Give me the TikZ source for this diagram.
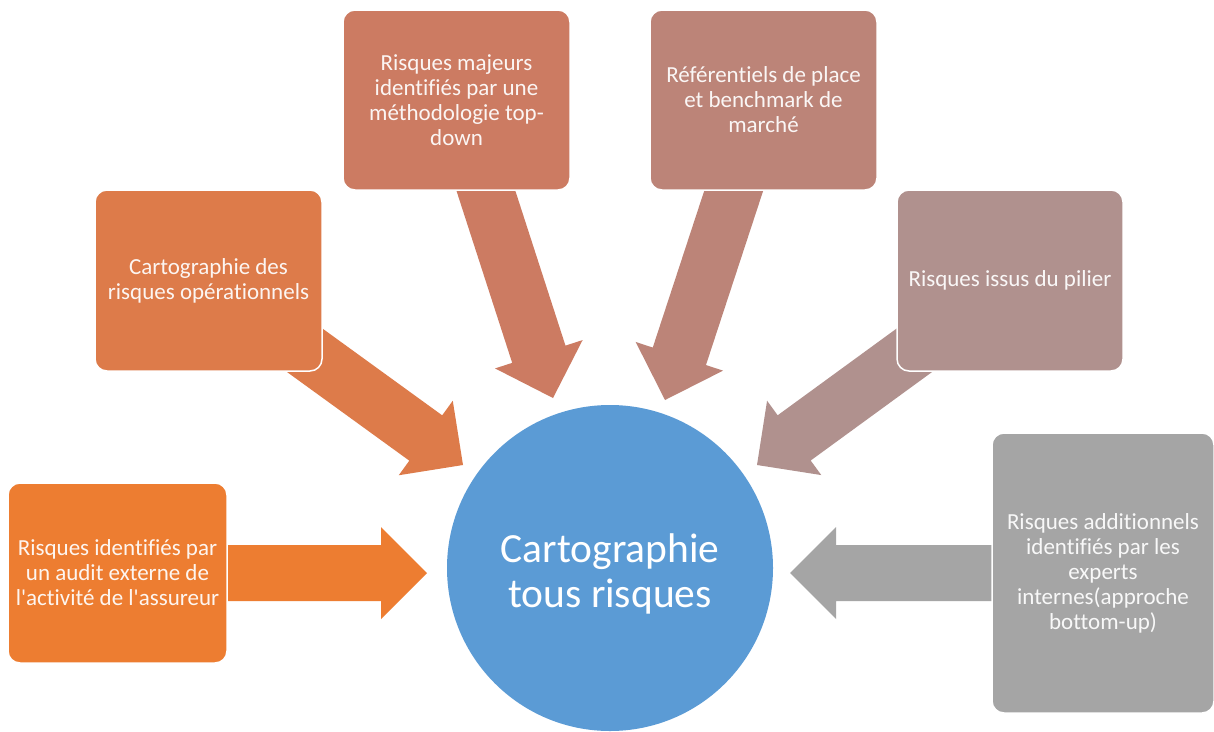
\documentclass[tikz,border=0pt]{standalone}
\usepackage{fontspec}
\setmainfont{Carlito}[Ligatures={NoCommon}]
\usetikzlibrary{calc}

\definecolor{cOne}{HTML}{ED7D31}
\definecolor{cTwo}{HTML}{DD7B4A}
\definecolor{cThree}{HTML}{CC7B62}
\definecolor{cFour}{HTML}{BC8478}
\definecolor{cFive}{HTML}{B0918E}
\definecolor{cSix}{HTML}{A5A5A5}
\definecolor{cHub}{HTML}{5B9BD5}

% Block arrow from a box centre (#1) to a tip coordinate (#2), filled with #3
\newcommand\blockarr[3]{%
  \coordinate (hb) at ($(#2)!46pt!(#1)$);
  \fill[#3] ($(#1)!28pt!90:(#2)$) -- ($(hb)!28pt!-90:(#1)$)
    -- ($(hb)!46pt!-90:(#1)$) -- (#2) -- ($(hb)!46pt!90:(#1)$)
    -- ($(hb)!28pt!90:(#1)$) -- ($(#1)!28pt!-90:(#2)$) -- cycle;
}

\tikzset{
  srcbox/.style={rounded corners=12pt, draw=white, line width=1.5pt,
    inner sep=0pt, align=center, text=white, text opacity=0.93,
    font=\fontsize{23}{25}\selectfont},
  hub/.style={circle, fill=cHub, inner sep=0pt, minimum size=326pt,
    align=center, text=white, font=\fontsize{41.5}{45}\selectfont}
}

\begin{document}
\begin{tikzpicture}[x=1pt,y=-1pt]
\useasboundingbox[fill=white] (0,0) rectangle (1214,731);

% anchor points for the boxes (drawn later, over the arrow shafts)
\coordinate (p1) at (117.5,573);
\coordinate (p2) at (208.5,280.5);
\coordinate (p3) at (456.5,100);
\coordinate (p4) at (763.5,100);
\coordinate (p5) at (1010,280.5);
\coordinate (p6) at (1103,573);

% arrow tips around the hub
\coordinate (t1) at (427,573);
\coordinate (t2) at (463,465);
\coordinate (t3) at (553,398);
\coordinate (t4) at (665,400);
\coordinate (t5) at (757,465);
\coordinate (t6) at (790,573);

\blockarr{p1}{t1}{cOne}
\blockarr{p2}{t2}{cTwo}
\blockarr{p3}{t3}{cThree}
\blockarr{p4}{t4}{cFour}
\blockarr{p5}{t5}{cFive}
\blockarr{p6}{t6}{cSix}

\node[srcbox, fill=cOne, minimum width=219pt, minimum height=180pt] (b1) at (p1)
  {Risques identifiés par\\un audit externe de\\l\textquotesingle activité de l\textquotesingle assureur};
\node[srcbox, fill=cTwo, minimum width=227pt, minimum height=181pt] (b2) at (p2)
  {Cartographie des\\risques opérationnels};
\node[srcbox, fill=cThree, minimum width=227pt, minimum height=180pt] (b3) at (p3)
  {Risques majeurs\\identifiés par une\\méthodologie top-\\down};
\node[srcbox, fill=cFour, minimum width=227pt, minimum height=180pt] (b4) at (p4)
  {Référentiels de place\\et benchmark de\\marché};
\node[srcbox, fill=cFive, minimum width=226pt, minimum height=181pt] (b5) at (p5)
  {Risques issus du pilier};
\node[srcbox, fill=cSix, minimum width=222pt, minimum height=280pt] (b6) at (p6)
  {Risques additionnels\\identifiés par les\\experts\\internes(approche\\bottom-up)};

\node[hub] (hubnode) at (610,568) {};
\node[align=center, text=white, font=\fontsize{41.5}{45}\selectfont] (hubtext)
  at ([yshift=-6pt]hubnode.center) {Cartographie\\tous risques};
\end{tikzpicture}
\end{document}
